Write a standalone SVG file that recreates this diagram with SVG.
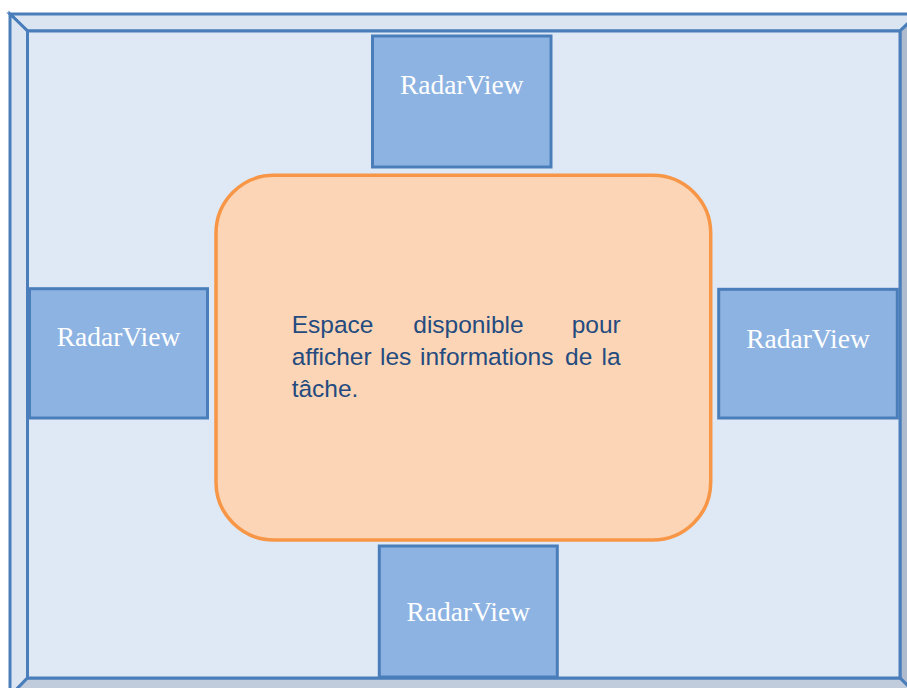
<svg xmlns="http://www.w3.org/2000/svg" width="907" height="688" viewBox="0 0 907 688">
<style>
.frame{stroke:#4a7ebb;stroke-width:3;stroke-linejoin:miter}
.box rect{fill:#8db3e2;stroke:#4a7ebb;stroke-width:3}
.box text{font-family:"Liberation Serif","DejaVu Serif",serif;font-size:27.5px;fill:#ffffff;text-anchor:middle}
.body{font-family:"Liberation Sans",Arial,sans-serif;font-size:24.5px;fill:#244b80}
</style>
<rect width="907" height="688" fill="#ffffff"/>
<g id="frame">
<polygon class="frame" points="10,14 918,14 900,31 27.5,31" fill="#dbe5f2"/>
<polygon class="frame" points="10,14 27.5,31 27.5,678 10,696" fill="#dbe5f2"/>
<polygon class="frame" points="918,14 918,696 900,678 900,31" fill="#aebbcf"/>
<polygon class="frame" points="10,696 27.5,678 900,678 918,696" fill="#c0cbdb"/>
<rect class="frame" x="27.5" y="31" width="872.5" height="647" fill="#dfe8f5"/>
</g>
<g id="radar-top" class="box">
<rect x="372.5" y="36" width="178.5" height="131"/>
<text x="461.75" y="94">RadarView</text>
</g>
<g id="radar-left" class="box">
<rect x="29.5" y="288.7" width="178" height="129.3"/>
<text x="118.5" y="346">RadarView</text>
</g>
<g id="radar-right" class="box">
<rect x="718.7" y="289.3" width="178.6" height="128.7"/>
<text x="808" y="347.7">RadarView</text>
</g>
<g id="radar-bottom" class="box">
<rect x="379.3" y="546" width="178" height="131"/>
<text x="468.3" y="620.7">RadarView</text>
</g>
<g id="task-area">
<rect x="216" y="175.3" width="494.7" height="364.7" rx="58" ry="58" fill="#fbd5b5" stroke="#f79646" stroke-width="3.5"/>
<text class="body" y="333.3"><tspan x="291.7">Espace</tspan><tspan x="413.3">disponible</tspan><tspan x="620.7" text-anchor="end">pour</tspan></text>
<text class="body" y="365.3"><tspan x="291.7">afficher</tspan><tspan x="380">les</tspan><tspan x="420">informations</tspan><tspan x="565">de</tspan><tspan x="620.7" text-anchor="end">la</tspan></text>
<text class="body" x="291.7" y="397.3">tâche.</text>
</g>
<g id="connectors"></g>
</svg>
